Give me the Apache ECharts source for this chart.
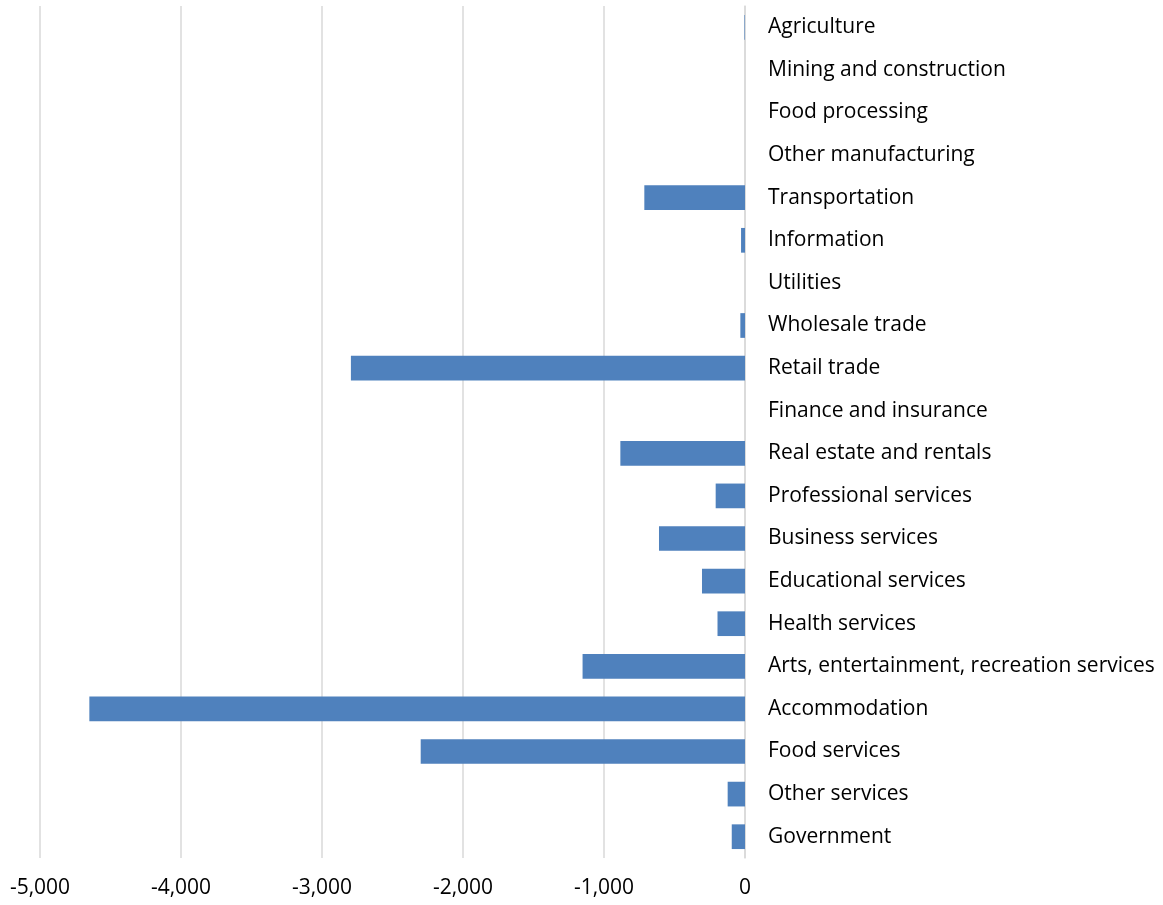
<!DOCTYPE html>
<html>
<head>
<meta charset="utf-8">
<script src="https://cdn.jsdelivr.net/npm/echarts@6/dist/echarts.min.js"></script>
<style>
html,body{margin:0;padding:0;background:#fff;}
#chart{width:1163px;height:905px;}
</style>
</head>
<body>
<div id="chart"></div>
<script>
const categories = [
  "Agriculture",
  "Mining and construction",
  "Food processing",
  "Other manufacturing",
  "Transportation",
  "Information",
  "Utilities",
  "Wholesale trade",
  "Retail trade",
  "Finance and insurance",
  "Real estate and rentals",
  "Professional services",
  "Business services",
  "Educational services",
  "Health services",
  "Arts, entertainment, recreation services",
  "Accommodation",
  "Food services",
  "Other services",
  "Government"
];
const values = [-4, 0, 0, 0, -714, -28, 0, -33, -2795, 0, -884, -208, -610, -305, -195, -1152, -4650, -2300, -123, -94];
const xTicks = { min: -5000, max: 0, interval: 1000 };

const FONT = '"Open Sans", "Noto Sans", sans-serif';
const chart = echarts.init(document.getElementById('chart'), null, {renderer: 'canvas'});
chart.setOption({
  animation: false,
  backgroundColor: '#ffffff',
  grid: { left: 40, right: 418, top: 6, bottom: 47, containLabel: false },
  xAxis: {
    type: 'value',
    min: xTicks.min, max: xTicks.max, interval: xTicks.interval,
    axisLine: { show: false },
    axisTick: { show: false },
    splitLine: { show: true, lineStyle: { color: '#d9d9d9', width: 1.5 } },
    axisLabel: {
      margin: 20,
      color: '#000000',
      fontFamily: FONT,
      fontSize: 21,
      formatter: v => v.toLocaleString('en-US')
    }
  },
  yAxis: {
    type: 'category',
    data: categories,
    inverse: true,
    position: 'right',
    axisLine: { show: true, lineStyle: { color: '#d9d9d9', width: 1.5 } },
    axisTick: { show: false },
    splitLine: { show: false },
    axisLabel: {
      margin: 23,
      color: '#000000',
      fontFamily: FONT,
      fontSize: 21,
      align: 'left',
      padding: [5, 0, 0, 0]
    }
  },
  series: [{
    type: 'bar',
    data: values,
    barCategoryGap: '42%',
    itemStyle: { color: '#4f81bd' }
  }]
});
</script>
</body>
</html>
